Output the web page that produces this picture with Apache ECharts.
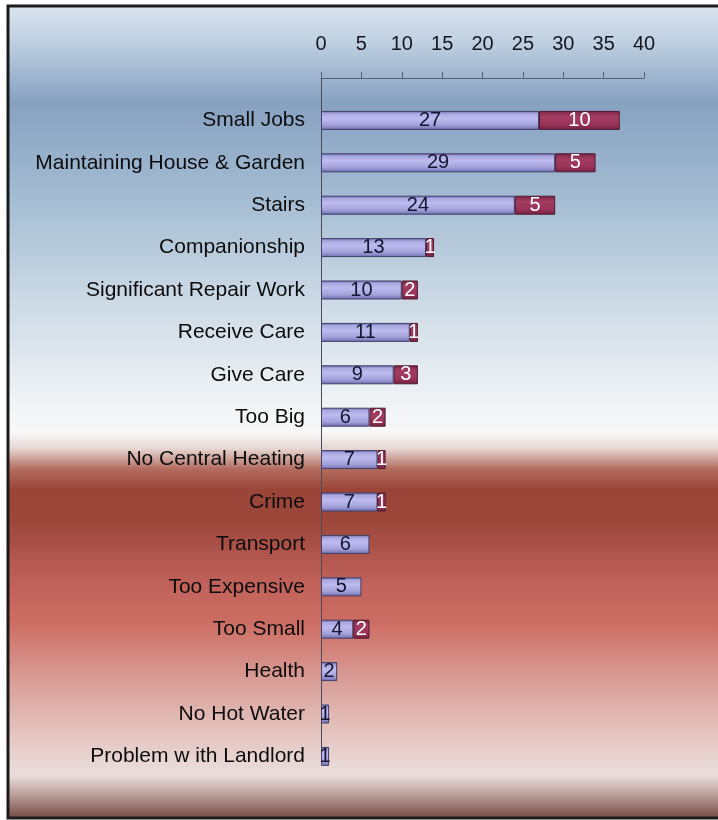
<!DOCTYPE html>
<html>
<head>
<meta charset="utf-8">
<style>
html,body{margin:0;padding:0;background:#fff;}
#chart{width:718px;height:820px;}
</style>
<script src="https://cdn.jsdelivr.net/npm/echarts@6/dist/echarts.min.js"></script>
</head>
<body>
<div id="chart"></div>
<script>
var categories = ['Small Jobs','Maintaining House & Garden','Stairs','Companionship','Significant Repair Work','Receive Care','Give Care','Too Big','No Central Heating','Crime','Transport','Too Expensive','Too Small','Health','No Hot Water','Problem w ith Landlord'];
var seriesA = [27,29,24,13,10,11,9,6,7,7,6,5,4,2,1,1];
var seriesB = [10,5,5,1,2,1,3,2,1,1,null,null,2,null,null,null];
var xTicks = [0,5,10,15,20,25,30,35,40];

var chart = echarts.init(document.getElementById('chart'), null, {renderer:'canvas'});

// leading blank slot so the axis line starts at the top axis
var axisCats = [''].concat(categories);
var dataA = [null].concat(seriesA);
var dataB = [null].concat(seriesB);

var bg = new echarts.graphic.LinearGradient(0,0,0,1,[
  {offset:0.00,color:'#dbe5ef'},
  {offset:0.04,color:'#c3d3e3'},
  {offset:0.12,color:'#87a1c1'},
  {offset:0.24,color:'#a5bdd3'},
  {offset:0.37,color:'#cedbe6'},
  {offset:0.48,color:'#eef2f5'},
  {offset:0.525,color:'#f8f8f8'},
  {offset:0.545,color:'#e6d6d2'},
  {offset:0.57,color:'#b26c5e'},
  {offset:0.595,color:'#9a4538'},
  {offset:0.635,color:'#9d473b'},
  {offset:0.71,color:'#c0625a'},
  {offset:0.76,color:'#cd6e64'},
  {offset:0.83,color:'#d99e98'},
  {offset:0.89,color:'#e4c2bd'},
  {offset:0.945,color:'#e9dedc'},
  {offset:0.965,color:'#c4aca8'},
  {offset:1.00,color:'#74463f'}
]);

var gradA = new echarts.graphic.LinearGradient(0,0,0,1,[
  {offset:0,color:'#6664a6'},
  {offset:0.15,color:'#aaa8e0'},
  {offset:0.4,color:'#bdbbee'},
  {offset:0.75,color:'#a3a1da'},
  {offset:1,color:'#6c6aac'}
]);
var gradB = new echarts.graphic.LinearGradient(0,0,0,1,[
  {offset:0,color:'#7a2443'},
  {offset:0.3,color:'#a43c62'},
  {offset:0.7,color:'#9a3458'},
  {offset:1,color:'#75213f'}
]);

var option = {
  animation:false,
  graphic:[
    {type:'rect',z:-10,silent:true,shape:{x:8,y:6,width:720,height:812},
     style:{fill:bg,stroke:'#1c1c1c',lineWidth:3}}
  ],
  grid:{left:321,right:74,top:78,bottom:63.6,containLabel:false},
  xAxis:{
    type:'value',position:'top',min:0,max:40,interval:5,
    axisLine:{show:true,lineStyle:{color:'#56607a',width:1}},
    axisTick:{show:true,inside:false,length:6,lineStyle:{color:'#56607a'}},
    splitLine:{show:false},
    axisLabel:{margin:24,fontSize:20,color:'#14161f',fontFamily:'Liberation Sans, Arial, sans-serif',
      formatter:function(v){return xTicks.indexOf(v)>=0?String(v):'';}}
  },
  yAxis:{
    type:'category',inverse:true,boundaryGap:false,data:axisCats,
    axisLine:{show:true,lineStyle:{color:'#4a4a58',width:1}},
    axisTick:{show:false},
    axisLabel:{margin:16,fontSize:21,color:'#0c0c0c',fontFamily:'Liberation Sans, Arial, sans-serif',interval:0}
  },
  series:[
    {type:'bar',stack:'s',data:dataA,barWidth:19,clip:false,
     itemStyle:{color:gradA,borderColor:'#40406a',borderWidth:1},
     label:{show:true,position:'inside',fontSize:20,color:'#151530',fontFamily:'Liberation Sans, Arial, sans-serif',
       formatter:function(p){return p.value==null?'':String(p.value);}}},
    {type:'bar',stack:'s',data:dataB,barWidth:19,clip:false,
     itemStyle:{color:gradB,borderColor:'#4e1a30',borderWidth:1},
     label:{show:true,position:'inside',fontSize:20,color:'#ffffff',fontFamily:'Liberation Sans, Arial, sans-serif',
       formatter:function(p){return p.value==null?'':String(p.value);}}}
  ]
};
chart.setOption(option);
</script>
</body>
</html>
